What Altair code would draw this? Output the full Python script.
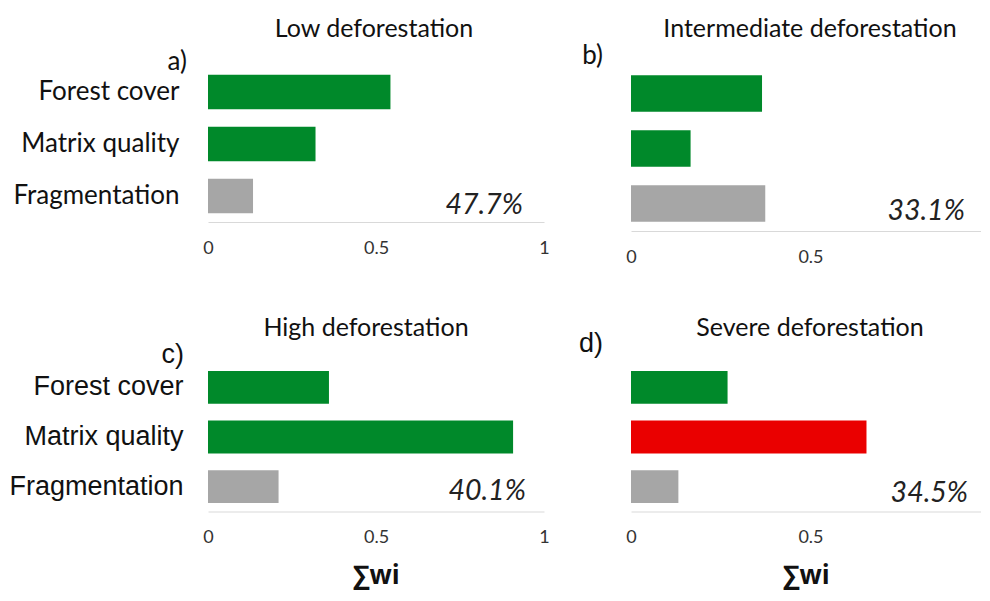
import altair as alt
import pandas as pd

# ---- data ----
categories = ["Forest cover", "Matrix quality", "Fragmentation"]
low_values = [0.543, 0.320, 0.134]
intermediate_values = [0.365, 0.166, 0.374]
high_values = [0.360, 0.908, 0.210]
severe_values = [0.269, 0.656, 0.132]

low_colors = ["#00892a", "#00892a", "#a6a6a6"]
intermediate_colors = ["#00892a", "#00892a", "#a6a6a6"]
high_colors = ["#00892a", "#00892a", "#a6a6a6"]
severe_colors = ["#00892a", "#ea0000", "#a6a6a6"]

titles = ["Low deforestation", "Intermediate deforestation", "High deforestation", "Severe deforestation"]
letters = ["a)", "b)", "c)", "d)"]
percent_labels = ["47.7%", "33.1%", "40.1%", "34.5%"]
percent_x = [0.9375, 0.930, 0.946, 0.939]
x_title = "∑wi"

FONT = "Lato"
FONT2 = "Liberation Sans"
TXT = "#111111"


def panel(values, colors, title, letter, pct, pct_x, W, H, dmax, tick_vals,
          show_y, label_font, label_size, label_pad, bottom, title_x, title_y,
          letter_x, letter_y, pct_dy):
    df = pd.DataFrame({"category": categories, "value": values, "color": colors})
    yscale = alt.Scale(domain=categories, paddingInner=0.34, paddingOuter=0.17)
    xscale = alt.Scale(domain=[0, dmax], nice=False, zero=True)
    if show_y:
        yaxis = alt.Axis(title=None, domain=False, ticks=False, labelFontSize=label_size,
                         labelPadding=label_pad, labelFont=label_font, labelColor=TXT,
                         labelLimit=400)
    else:
        yaxis = None
    xaxis_kw = dict(values=tick_vals, format="~g", domain=True, domainColor="#d9d9d9",
                    domainWidth=1, ticks=False, grid=False, labelFontSize=18,
                    labelPadding=17, labelColor="#333333", labelFont=FONT,
                    labelFlush=False)
    if bottom:
        xaxis = alt.Axis(title=x_title, titleFont="Open Sans", titleFontWeight="bold",
                         titleFontSize=26, titlePadding=16, titleColor=TXT, **xaxis_kw)
    else:
        xaxis = alt.Axis(title=None, **xaxis_kw)

    bars = alt.Chart(df).mark_bar().encode(
        y=alt.Y("category:N", scale=yscale, axis=yaxis, sort=categories),
        x=alt.X("value:Q", scale=xscale, axis=xaxis),
        color=alt.Color("color:N", scale=None),
    )
    pdf = pd.DataFrame({"category": [categories[2]], "value": [pct_x], "label": [pct]})
    pct_layer = alt.Chart(pdf).mark_text(
        align="right", baseline="alphabetic", font=FONT, fontStyle="italic",
        fontSize=28.5, color="#222222", dy=pct_dy,
    ).encode(
        y=alt.Y("category:N", scale=yscale, axis=yaxis, sort=categories),
        x=alt.X("value:Q", scale=xscale, axis=xaxis),
        text="label:N",
    )
    tdf = pd.DataFrame({"t": [title], "l": [letter]})
    title_layer = alt.Chart(tdf).mark_text(
        align="center", baseline="alphabetic", font=FONT, fontSize=25, color=TXT
    ).encode(x=alt.value(title_x), y=alt.value(title_y), text="t:N")
    letter_layer = alt.Chart(tdf).mark_text(
        align="right", baseline="alphabetic", font=label_font, fontSize=label_size, color=TXT
    ).encode(x=alt.value(letter_x), y=alt.value(letter_y), text="l:N")
    return alt.layer(bars, pct_layer, title_layer, letter_layer).properties(width=W, height=H)


pa = panel(low_values, low_colors, titles[0], letters[0], percent_labels[0], percent_x[0],
           336, 156, 1.0, [0, 0.5, 1], True, FONT, 26, 29, False, 166, -29, -21, 4, 17.5)
pb = panel(intermediate_values, intermediate_colors, titles[1], letters[1], percent_labels[1], percent_x[1],
           350, 165, 0.975, [0, 0.5], False, FONT, 26, 29, False, 179, -29, -28, -2.5, 16)
pc = panel(high_values, high_colors, titles[2], letters[2], percent_labels[2], percent_x[2],
           336, 149, 1.0, [0, 0.5, 1], True, FONT2, 27, 25, True, 158, -27, -24, 0, 13)
pdd = panel(severe_values, severe_colors, titles[3], letters[3], percent_labels[3], percent_x[3],
            350, 149, 0.975, [0, 0.5], False, FONT2, 27, 25, True, 179, -27, -28, -11, 15)

chart = alt.concat(
    pa, pb, pc, pdd, columns=2, bounds="flush", spacing={"row": 131.5, "column": 87}
).properties(
    padding={"left": 0, "top": 9, "right": 0, "bottom": 4}
).configure_view(stroke=None)

chart.save("out.html", embed_options={"renderer": "svg", "actions": False})
